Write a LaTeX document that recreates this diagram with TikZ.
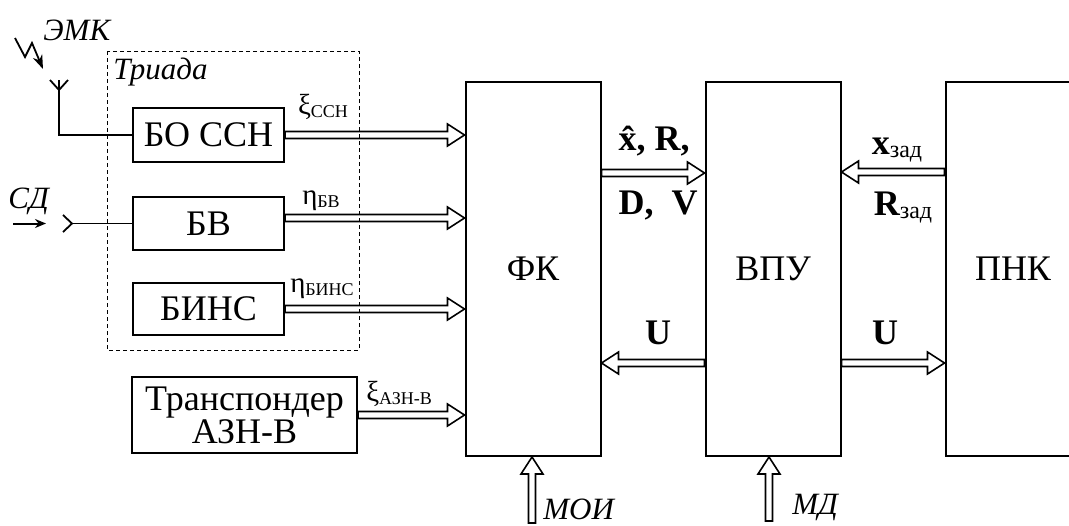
\documentclass[tikz,border=0pt]{standalone}
\usepackage{fontspec}
\setmainfont{Liberation Serif}
\usetikzlibrary{calc,arrows.meta}

\tikzset{
    block/.style={draw, line width=1pt, inner sep=0pt, font=\fontsize{18}{16.5}\selectfont},
    bus/.style={draw, line width=0.8pt, line join=miter},
    lbl/.style={inner sep=0pt, font=\fontsize{14.5}{14.5}\selectfont},
    bold/.style={inner sep=0pt, font=\fontsize{18}{18}\selectfont\bfseries},
    ital/.style={inner sep=0pt, anchor=base west, font=\fontsize{15.5}{15.5}\selectfont\itshape},
}
\newcommand\lo[2][9]{\raisebox{-1.5pt}{\fontsize{#1}{#1}\selectfont\mdseries #2}}
\newcommand\busarrow[2]{%
    \draw[bus] let \p1=(#1), \p2=(#2),
        \n1={atan2(\y2-\y1,\x2-\x1)}, \n2={veclen(\x2-\x1,\y2-\y1)-8.5pt} in
        ($(\p1)+(\n1+90:1.75pt)$) -- ++(\n1:\n2) -- ++(\n1+90:3.75pt) -- (\p2)
        -- ($(\p1)+(\n1:\n2)+(\n1-90:5.5pt)$) -- ++(\n1+90:3.75pt)
        -- ++(\n1+180:\n2) -- cycle;}

\begin{document}
\begin{tikzpicture}[x=0.5pt, y=0.5pt]
    \useasboundingbox (0,0) rectangle (1069,-525);
    \clip (0,0) rectangle (1069,-525);

    \draw[line width=0.5pt, dash pattern=on 2pt off 1.5pt] (107,-51) rectangle (359,-350);
    \node[ital] at (113,-79) {Триада};

    \node[block, minimum width=75.5pt, minimum height=27pt] (bo) at (208.5,-135) {БО ССН};
    \node[block, minimum width=75.5pt, minimum height=26.5pt] (bv) at (208.5,-223.5) {БВ};
    \node[block, minimum width=75.5pt, minimum height=26pt] (bins) at (208.5,-309) {БИНС};
    \node[block, minimum width=112.5pt, minimum height=38pt, align=center] (tr) at (244.5,-415) {Транспондер\\АЗН-В};

    \node[block, minimum width=67.5pt, minimum height=187pt] (fk) at (533,-269) {ФК};
    \node[block, minimum width=67.5pt, minimum height=187pt] (vpu) at (773,-269) {ВПУ};
    \node[block, minimum width=67.5pt, minimum height=187pt] (pnk) at (1013,-269) {ПНК};

    % antenna and radio link
    \coordinate (ant) at (59,-90);
    \draw[line width=0.9pt] (50,-80) -- (ant) -- (68,-80);
    \draw[line width=0.9pt] (59,-80) |- (bo.west);
    \draw[line width=0.9pt, -{Stealth[length=7pt,width=5pt]}] (15,-38) -- (25,-57) -- (32,-43) -- (43,-69);
    \node[ital] at (43,-40) {ЭМК};

    % air data input
    \coordinate (sd) at (72,-223.5);
    \draw[line width=1pt, -{Stealth[length=5.5pt,width=4.5pt]}] (13,-223.5) -- (46,-223.5);
    \draw[line width=0.9pt] (63,-215) -- (sd) -- (63,-232);
    \draw[line width=0.9pt] (sd) -- (bv.west);
    \node[ital] at (8,-208) {СД};

    \coordinate (bvout) at ([yshift=2.75pt]bv.east);
    \coordinate (fkout) at ([yshift=48pt]fk.east);
    \coordinate (pnkout) at ([yshift=48.5pt]pnk.west);
    \coordinate (vpul) at ([yshift=-47pt]vpu.west);
    \coordinate (vpur) at ([yshift=-47pt]vpu.east);
    \coordinate (moi) at (532,-523);
    \coordinate (md) at (769,-521);

    \busarrow{bo.east}{bo.east -| fk.west}
    \busarrow{bvout}{bvout -| fk.west}
    \busarrow{bins.east}{bins.east -| fk.west}
    \busarrow{tr.east}{tr.east -| fk.west}
    \busarrow{fkout}{fkout -| vpu.west}
    \busarrow{pnkout}{pnkout -| vpu.east}
    \busarrow{vpul}{vpul -| fk.east}
    \busarrow{vpur}{vpur -| pnk.west}
    \busarrow{moi}{moi |- fk.south}
    \busarrow{md}{md |- vpu.south}

    \node[lbl] at (323,-107) {ξ\lo{ССН}};
    \node[lbl] at (321,-201) {η\lo{БВ}};
    \node[lbl] at (322,-289) {η\lo{БИНС}};
    \node[lbl] at (399,-394) {ξ\lo{АЗН-В}};

    \node[bold] at (654,-141) {\^{x}, R,};
    \node[bold] at (658,-205) {D,\ \ V};
    \node[bold] at (897,-150) {x\lo[12]{зад}};
    \node[bold] at (903,-208) {R\lo[12]{зад}};
    \node[bold] at (658,-333) {U};
    \node[bold] at (885,-333) {U};

    \node[ital] at (543,-519) {МОИ};
    \node[ital] at (792,-514) {МД};
\end{tikzpicture}
\end{document}
